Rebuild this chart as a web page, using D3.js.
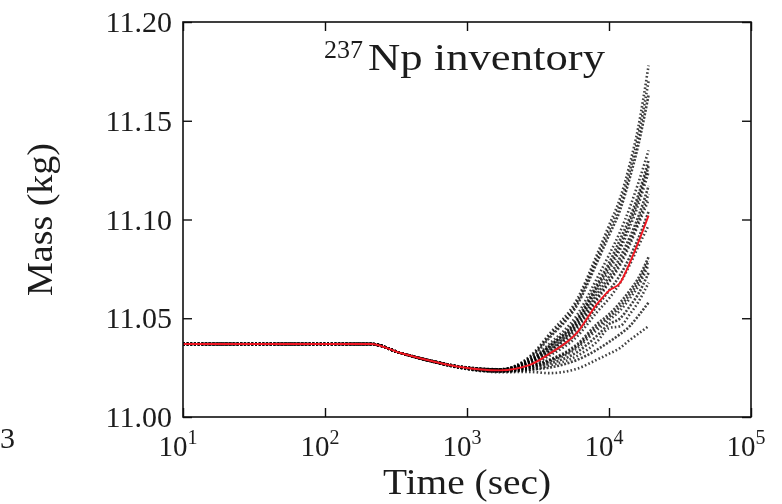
<!DOCTYPE html>
<html>
<head>
<meta charset="utf-8">
<script src="https://cdn.jsdelivr.net/npm/d3@7"></script>
<style>
  html, body { margin: 0; padding: 0; background: #fff; }
  svg { display: block; }
  text { font-family: "Liberation Serif", "Times New Roman", serif; fill: #1b1b1b; }
</style>
</head>
<body>
<svg id="chart" width="782" height="504"></svg>
<script>
// ---------------- data ----------------
const timeSec = [10, 105, 210, 340, 580, 900, 1700, 2800, 3800, 6000, 8200, 10000, 12000, 14000, 16000, 19000];

const redRun = [11.037, 11.037, 11.037, 11.0324, 11.0281, 11.0253, 11.0236, 11.0265, 11.0320, 11.0430, 11.0570, 11.0640, 11.0680, 11.0780, 11.0880, 11.1020];

const run01 = [11.037, 11.037, 11.037, 11.0324, 11.0282, 11.0255, 11.0242, 11.0310, 11.0420, 11.0600, 11.0820, 11.0970, 11.1110, 11.1280, 11.1460, 11.1780];
const run02 = [11.037, 11.037, 11.037, 11.0324, 11.0282, 11.0255, 11.0241, 11.0300, 11.0400, 11.0570, 11.0780, 11.0920, 11.1050, 11.1210, 11.1370, 11.1630];
const run03 = [11.037, 11.037, 11.037, 11.0324, 11.0281, 11.0254, 11.0240, 11.0290, 11.0370, 11.0520, 11.0700, 11.0820, 11.0940, 11.1060, 11.1180, 11.1350];
const run04 = [11.037, 11.037, 11.037, 11.0324, 11.0281, 11.0254, 11.0240, 11.0290, 11.0360, 11.0500, 11.0670, 11.0780, 11.0900, 11.1010, 11.1120, 11.1300];
const run05 = [11.037, 11.037, 11.037, 11.0324, 11.0281, 11.0253, 11.0239, 11.0280, 11.0350, 11.0480, 11.0640, 11.0740, 11.0850, 11.0960, 11.1070, 11.1240];
const run06 = [11.037, 11.037, 11.037, 11.0324, 11.0281, 11.0253, 11.0238, 11.0280, 11.0340, 11.0470, 11.0620, 11.0710, 11.0810, 11.0910, 11.1010, 11.1170];
const run07 = [11.037, 11.037, 11.037, 11.0324, 11.0281, 11.0253, 11.0238, 11.0270, 11.0330, 11.0450, 11.0590, 11.0680, 11.0770, 11.0870, 11.0970, 11.1100];
const run08 = [11.037, 11.037, 11.037, 11.0324, 11.0281, 11.0252, 11.0237, 11.0270, 11.0320, 11.0430, 11.0560, 11.0640, 11.0720, 11.0810, 11.0900, 11.1040];
const run09 = [11.037, 11.037, 11.037, 11.0324, 11.0281, 11.0252, 11.0236, 11.0260, 11.0310, 11.0410, 11.0530, 11.0600, 11.0680, 11.0770, 11.0860, 11.0970];
const run10 = [11.037, 11.037, 11.037, 11.0324, 11.0280, 11.0251, 11.0234, 11.0260, 11.0290, 11.0370, 11.0470, 11.0520, 11.0580, 11.0640, 11.0700, 11.0810];
const run11 = [11.037, 11.037, 11.037, 11.0324, 11.0280, 11.0251, 11.0233, 11.0250, 11.0280, 11.0350, 11.0440, 11.0490, 11.0540, 11.0600, 11.0660, 11.0770];
const run12 = [11.037, 11.037, 11.037, 11.0324, 11.0280, 11.0250, 11.0232, 11.0250, 11.0270, 11.0330, 11.0410, 11.0470, 11.0500, 11.0560, 11.0620, 11.0730];
const run13 = [11.037, 11.037, 11.037, 11.0324, 11.0280, 11.0250, 11.0231, 11.0240, 11.0260, 11.0310, 11.0380, 11.0450, 11.0460, 11.0520, 11.0580, 11.0680];
const run14 = [11.037, 11.037, 11.037, 11.0324, 11.0279, 11.0249, 11.0229, 11.0240, 11.0250, 11.0290, 11.0340, 11.0380, 11.0420, 11.0460, 11.0510, 11.0580];
const run15 = [11.037, 11.037, 11.037, 11.0324, 11.0279, 11.0248, 11.0227, 11.0228, 11.0222, 11.0245, 11.0290, 11.0320, 11.0350, 11.0390, 11.0420, 11.0460];
const run16 = [11.037, 11.037, 11.037, 11.0324, 11.0281, 11.0253, 11.0239, 11.0285, 11.0355, 11.0490, 11.0655, 11.0760, 11.0870, 11.0985, 11.1095, 11.1270];
const run17 = [11.037, 11.037, 11.037, 11.0324, 11.0281, 11.0252, 11.0237, 11.0275, 11.0335, 11.0460, 11.0600, 11.0690, 11.0785, 11.0885, 11.0985, 11.1130];
const run18 = [11.037, 11.037, 11.037, 11.0324, 11.0280, 11.0251, 11.0234, 11.0255, 11.0285, 11.0360, 11.0455, 11.0505, 11.0560, 11.0620, 11.0680, 11.0790];
const run19 = [11.037, 11.037, 11.037, 11.0324, 11.0282, 11.0255, 11.0241, 11.0305, 11.0410, 11.0585, 11.0800, 11.0945, 11.1080, 11.1245, 11.1415, 11.1700];

const ensembleRuns = [run01, run02, run03, run04, run05, run06, run07, run08, run09, run10,
                      run11, run12, run13, run14, run15, run16, run17, run18, run19];

const xTickValues = [10, 100, 1000, 10000, 100000];
const xTickExponents = ["1", "2", "3", "4", "5"];
const yTickValues = [11.00, 11.05, 11.10, 11.15, 11.20];
const yTickLabels = ["11.00", "11.05", "11.10", "11.15", "11.20"];

const titleSup = "237";
const titleMain = "Np inventory";
const xLabel = "Time (sec)";
const yLabel = "Mass (kg)";
const strayLabel = "3";

// ---------------- layout ----------------
const plot = { left: 183, right: 751, top: 22, bottom: 417 };

const svg = d3.select("#chart");
const defs = svg.append("defs");
defs.append("filter").attr("id", "soft")
  .attr("x", "-5%").attr("y", "-5%").attr("width", "110%").attr("height", "110%")
  .append("feGaussianBlur").attr("stdDeviation", 0.5);

const x = d3.scaleLog().domain([10, 100000]).range([plot.left, plot.right]);
const y = d3.scaleLinear().domain([11.00, 11.20]).range([plot.bottom, plot.top]);

const root = svg.append("g").attr("filter", "url(#soft)");

// lines
const lineGen = d3.line()
  .x((d, i) => x(timeSec[i]))
  .y(d => y(d))
  .curve(d3.curveMonotoneX);

const curves = root.append("g");
curves.selectAll("path.run")
  .data(ensembleRuns)
  .join("path")
  .attr("class", "run")
  .attr("d", d => lineGen(d))
  .attr("fill", "none")
  .attr("stroke", "#000")
  .attr("stroke-width", 2.6)
  .attr("stroke-dasharray", (d, i) => i % 2 ? "2,1.6" : "1.6,2.2")
  .attr("stroke-opacity", 0.75);

curves.append("path")
  .attr("d", lineGen(redRun))
  .attr("fill", "none")
  .attr("stroke", "#f01820")
  .attr("stroke-width", 1.9);

// axes (inward ticks on all sides)
const tickLen = 9;
const axB = d3.axisBottom(x).tickValues(xTickValues).tickSize(-tickLen).tickFormat("");
const axT = d3.axisTop(x).tickValues(xTickValues).tickSize(-tickLen).tickFormat("");
const axL = d3.axisLeft(y).tickValues(yTickValues).tickSize(-tickLen).tickFormat("");
const axR = d3.axisRight(y).tickValues(yTickValues).tickSize(-tickLen).tickFormat("");

function styleAxis(g) {
  g.select(".domain").remove();
  g.selectAll(".tick line").attr("stroke", "#111").attr("stroke-width", 1.4);
}
root.append("g").attr("transform", `translate(0,${plot.bottom})`).call(axB).call(styleAxis);
root.append("g").attr("transform", `translate(0,${plot.top})`).call(axT).call(styleAxis);
root.append("g").attr("transform", `translate(${plot.left},0)`).call(axL).call(styleAxis);
root.append("g").attr("transform", `translate(${plot.right},0)`).call(axR).call(styleAxis);

root.append("rect")
  .attr("x", plot.left).attr("y", plot.top)
  .attr("width", plot.right - plot.left).attr("height", plot.bottom - plot.top)
  .attr("fill", "none").attr("stroke", "#111").attr("stroke-width", 1.6);

// y tick labels
root.append("g").selectAll("text")
  .data(yTickValues)
  .join("text")
  .attr("x", plot.left - 11)
  .attr("y", d => y(d) + 10)
  .attr("text-anchor", "end")
  .attr("font-size", 30)
  .text((d, i) => yTickLabels[i]);

// x tick labels with superscripts
const xl = root.append("g").selectAll("text")
  .data(xTickValues)
  .join("text")
  .attr("x", d => x(d) - 5)
  .attr("y", 456)
  .attr("text-anchor", "middle")
  .attr("font-size", 29);
xl.append("tspan").text("10");
xl.append("tspan").attr("font-size", 20).attr("dy", -12).text((d, i) => xTickExponents[i]);

// axis labels
root.append("text")
  .attr("x", (plot.left + plot.right) / 2)
  .attr("y", 494)
  .attr("text-anchor", "middle")
  .attr("font-size", 36)
  .attr("textLength", 168)
  .attr("lengthAdjust", "spacingAndGlyphs")
  .text(xLabel);

root.append("text")
  .attr("transform", `translate(52,${(plot.top + plot.bottom) / 2}) rotate(-90)`)
  .attr("text-anchor", "middle")
  .attr("font-size", 36)
  .attr("textLength", 153)
  .attr("lengthAdjust", "spacingAndGlyphs")
  .text(yLabel);

// title
root.append("text")
  .attr("x", 324).attr("y", 58)
  .attr("font-size", 26)
  .text(titleSup);
root.append("text")
  .attr("x", 368).attr("y", 70)
  .attr("font-size", 37)
  .attr("textLength", 237)
  .attr("lengthAdjust", "spacingAndGlyphs")
  .text(titleMain);

// stray fragment at left edge
root.append("text")
  .attr("x", 15).attr("y", 448)
  .attr("text-anchor", "end")
  .attr("font-size", 30)
  .text(strayLabel);
</script>
</body>
</html>
